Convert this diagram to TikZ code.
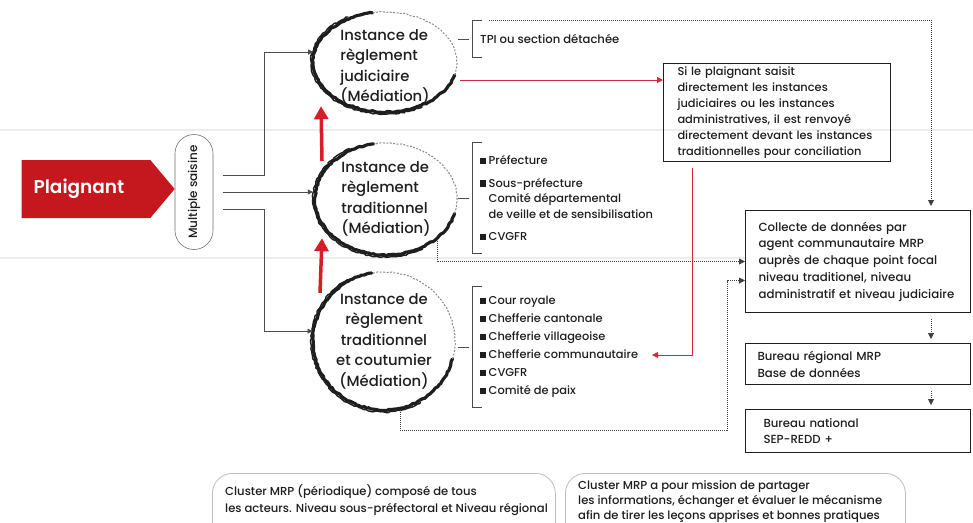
\documentclass[tikz,border=0pt]{standalone}
\usepackage{fontspec}
\setmainfont{Poppins}[UprightFont=* Medium, BoldFont=* SemiBold]
\usepackage{graphicx}
\usepackage{tikz}
\usetikzlibrary{shapes.geometric}
\usetikzlibrary{shapes.symbols}
\usetikzlibrary{arrows.meta}
\usetikzlibrary{decorations.pathmorphing}
\usetikzlibrary{positioning}
\definecolor{plainte}{RGB}{197,24,30}
\definecolor{rougevif}{RGB}{215,30,38}
\definecolor{rougefin}{RGB}{210,40,60}
\definecolor{encre}{RGB}{30,30,30}
\tikzset{
    every picture/.style={x=1pt,y=-1pt},
    brush/.style={line width=3.2pt, line cap=round, line join=round, draw=encre,
          decoration={random steps, segment length=2.5pt, amplitude=0.7pt}, decorate},
    brushfin/.style={line width=1pt, draw=black!45, dash pattern=on 2pt off 1.5pt,
          decoration={random steps, segment length=2pt, amplitude=0.5pt}, decorate},
    fleche/.style={draw=black!70, line width=0.7pt, -{Triangle[length=5pt,width=5pt]}, shorten >=1pt},
    trait/.style={draw=black!70, line width=0.7pt},
    pointille/.style={draw=black!75, line width=0.9pt, dash pattern=on 1pt off 1pt,
          -{Triangle[length=6pt,width=6pt]}},
    rouge/.style={draw=rougefin, line width=1pt, -{Triangle[length=6pt,width=6pt]}},
    montee/.style={draw=rougevif, line width=3.5pt, -{Triangle[length=13pt,width=14pt]}},
    fond/.style={draw=black!7, line width=2pt},
}
\newcommand\carre{\rule[0.3pt]{5.5pt}{6.5pt}\hspace{3pt}}
\newcommand\retrait{\hspace*{8.5pt}}
% contour au pinceau : node, rayon x, rayon y, rayons du second passage
\newcommand\pinceau[5]{%
  \draw[brush] (#1.center) ++(-100:#2 and #3)
      arc[start angle=-100, end angle=-345, x radius=#2, y radius=#3];
  \draw[brush, line width=1.4pt] (#1.center) ++(-120:#4 and #5)
      arc[start angle=-120, end angle=-300, x radius=#4, y radius=#5];
  \draw[brushfin] (#1.center) ++(15:#2 and #3)
      arc[start angle=15, end angle=-100, x radius=#2, y radius=#3];
}

\begin{document}
\begin{tikzpicture}[
    instance/.style={ellipse, inner sep=0pt, minimum width=144pt},
    instxt/.style={align=left, font=\fontsize{14.8}{20.5}\selectfont, text=encre},
    liste/.style={align=left, inner sep=0pt, inner xsep=8pt, text=encre},
    boite/.style={draw=encre, line width=1pt, align=left, anchor=north west, inner xsep=13pt,
          font=\fontsize{11.4}{16}\selectfont, text=encre},
    cluster/.style={draw=black!25, line width=0.8pt, rounded corners=20pt, anchor=north west,
          minimum height=70pt},
    ]
    \useasboundingbox (0,0) rectangle (973,522);
    \fill[white] (0,0) rectangle (973,522);
    \draw[fond] (0,130) -- (973,130);
    \draw[fond] (0,258) -- (745,258);

    % plaignant et saisine
    \node[signal, signal to=east, signal pointer angle=100, fill=plainte, text=white,
          minimum width=153pt, minimum height=58pt, font=\bfseries\fontsize{18.5}{18}\selectfont]
          (pl) at (86,189) {Plaignant\hspace*{14pt}};
    \node[draw=black!55, line width=0.6pt, rounded corners=19pt, minimum width=38pt,
          minimum height=115pt, font=\fontsize{12}{10}\selectfont, text=encre]
          (ms) at (194,192) {\rotatebox{90}{Multiple saisine}};

    % instances
    \node[instance, minimum height=100pt] (ij) at (385,62) {};
    \node[instxt] (ijt) at ([yshift=-5pt]ij) {Instance de\\règlement\\judiciaire\\(Médiation)};
    \node[instance, minimum height=112pt] (it) at (386,199) {};
    \node[instxt] (itt) at (it) {Instance de\\règlement\\traditionnel\\(Médiation)};
    \node[instance, minimum width=142pt, minimum height=138pt] (ic) at (384,341) {};
    \node[instxt, align=center] (ict) at (ic) {Instance de\\règlement\\traditionnel\\et coutumier\\(Médiation)};
    \pinceau{ij}{72}{50}{74}{52}
    \pinceau{it}{71}{56}{73}{58}
    \pinceau{ic}{71}{69}{73}{71}

    \draw[montee] ([xshift=-64pt,yshift=-18pt]it.north) -- ([xshift=-64pt,yshift=6pt]ij.south);
    \draw[montee] ([xshift=-64pt,yshift=-21pt]ic.north) -- ([xshift=-64pt,yshift=17pt]it.south);

    \draw[fleche] ([xshift=10pt,yshift=17pt]ms.east) -- ++(41,0) |- (ij.172);
    \draw[fleche] ([xshift=10pt]ms.east) -- (ms.east -| it.west);
    \draw[fleche] ([xshift=10pt,yshift=-17pt]ms.east) -- ++(41,0) |- (ic.172);

    % listes
    \node[liste, anchor=west, minimum height=37pt, font=\fontsize{11.6}{15}\selectfont]
          (lt) at (472,39) {TPI ou section détachée};
    \node[liste, anchor=west, minimum height=110pt, font=\fontsize{11.4}{15.5}\selectfont]
          (lp) at (472,198) {\carre Préfecture\\[7pt]
              \carre Sous-préfecture\\
              \retrait Comité départemental\\
              \retrait de veille et de sensibilisation\\[7pt]
              \carre CVGFR};
    \node[liste, anchor=west, minimum height=121pt, font=\fontsize{11.4}{18}\selectfont]
          (lc) at (472,347) {\carre Cour royale\\
              \carre Chefferie cantonale\\
              \carre Chefferie villageoise\\
              \carre Chefferie communautaire\\
              \carre CVGFR\\
              \carre Comité de paix};
    \foreach \l in {lt,lp,lc} {
      \draw[trait] ([xshift=10pt]\l.north west) -- (\l.north west) -- (\l.south west)
            -- ([xshift=10pt]\l.south west);
      \draw[trait] ([xshift=-3pt]\l.west) -- ++(-11,0);
    }

    % boites de droite
    \node[boite, text width=207pt, inner xsep=10pt, minimum height=97pt] (si) at (663,63)
          {\hspace*{4pt}Si le plaignant saisit\\\hspace*{4pt}directement les instances\\
           \hspace*{4pt}judiciaires ou les instances\\\hspace*{4pt}administratives, il est renvoyé\\
           \hspace*{4pt}directement devant les instances\\\hspace*{4pt}traditionnelles pour conciliation};
    \node[boite, text width=199pt, minimum height=102pt, font=\fontsize{11.8}{16.7}\selectfont] (co) at (745,210)
          {Collecte de données par\\agent communautaire MRP\\auprès de chaque point focal\\
           niveau traditionel, niveau\\administratif et niveau judiciaire};
    \node[boite, text width=201pt, inner xsep=12pt, minimum height=41pt,
          font=\fontsize{11.7}{17}\selectfont] (br) at (745,343)
          {Bureau régional MRP\\Base de données};
    \node[boite, text width=189pt, inner xsep=18pt, minimum height=43pt,
          font=\fontsize{11.7}{16}\selectfont] (bn) at (745,409)
          {Bureau national\\SEP-REDD +};

    \coordinate (r1) at ([xshift=3pt,yshift=-18pt]ij.east);
    \draw[rouge] (r1) -- (r1 -| si.west);
    \coordinate (cc) at (652,355);
    \draw[rouge] ([xshift=29pt,yshift=-6pt]si.south west) |- (cc);

    \draw[pointille, shorten >=4pt] ([xshift=17pt]lt.north west) -| ([xshift=-40pt]co.north east);
    \draw[pointille] (it.south east) |- (co.west);
    \draw[pointille] ([xshift=16pt]ic.south) -- ++(0,20)
          -| ([xshift=-18pt,yshift=-19pt]co.west) -- ([yshift=-19pt]co.west);
    \draw[pointille, shorten <=6pt, shorten >=4pt] ([xshift=-40pt]co.south east) -- ([xshift=-40pt]br.north east);
    \draw[pointille, shorten <=6pt, shorten >=4pt] ([xshift=-40pt]br.south east) -- ([xshift=-40pt]bn.north east);

    % clusters
    \node[cluster, minimum width=343pt] (k1) at (212,473) {};
    \node[below right=11pt and 13pt of k1.north west, align=left, inner sep=0pt, text=encre,
          font=\fontsize{11.6}{17}\selectfont] (k1t)
          {Cluster MRP (périodique) composé de tous\\les acteurs. Niveau sous-préfectoral et Niveau régional};
    \node[cluster, minimum width=340pt] (k2) at (565,473) {};
    \node[below right=7pt and 13pt of k2.north west, align=left, inner sep=0pt, text=encre,
          font=\fontsize{11.6}{15.2}\selectfont] (k2t)
          {Cluster MRP a pour mission de partager\\les informations, échanger et évaluer le mécanisme\\
           afin de tirer les leçons apprises et bonnes pratiques};
\end{tikzpicture}
\end{document}
